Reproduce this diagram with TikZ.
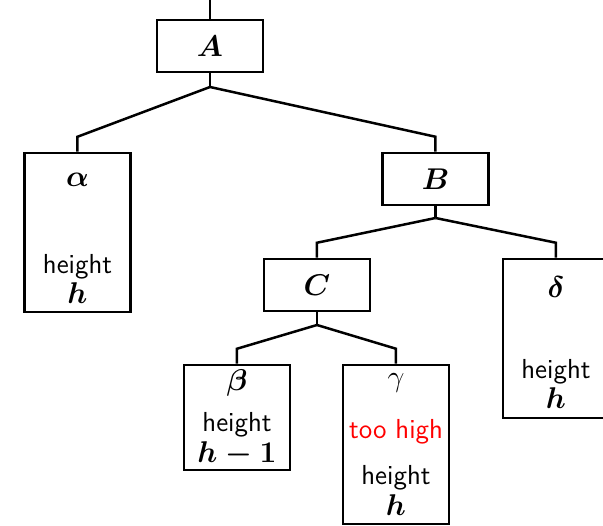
\documentclass[tikz,border=0pt]{standalone}
\usepackage{amsmath,amssymb}
\usetikzlibrary{positioning,calc}

\tikzset{
  treebox/.style={draw,line width=1pt,minimum width=42.4pt,minimum height=20.8pt,inner sep=0pt},
  tallbox/.style={treebox,minimum height=63.6pt},
  midbox/.style={treebox,minimum height=42pt},
  lbl/.style={inner sep=0pt,font=\fontsize{11.5}{13}\selectfont},
  htext/.style={inner sep=0pt,font=\sffamily\fontsize{11}{13}\selectfont},
  edge/.style={line width=1pt}
}

\begin{document}
\begin{tikzpicture}[x=0.4pt,y=-0.4pt]
  \useasboundingbox (0,0) rectangle (603,526);
  \clip (0,0) rectangle (603,526);

  % inner nodes
  \node[treebox,font=\fontsize{11.5}{13}\selectfont] (A) at (210,46) {$\boldsymbol{A}$};
  \node[treebox,font=\fontsize{11.5}{13}\selectfont] (B) at (435.5,179) {$\boldsymbol{B}$};
  \node[treebox,font=\fontsize{11.5}{13}\selectfont] (C) at (317,285) {$\boldsymbol{C}$};

  % subtrees
  \node[tallbox] (alpha) at (77.5,232.5) {};
  \node[lbl] (alphaname) at (77.5,180) {$\boldsymbol{\alpha}$};
  \node[htext] (alphaheight) at (77.5,267) {height};
  \node[lbl] (alphah) at (77.5,293) {$\boldsymbol{h}$};

  \node[tallbox] (delta) at (556,338.5) {};
  \node[lbl] (deltaname) at (556,287) {$\boldsymbol{\delta}$};
  \node[htext] (deltaheight) at (556,372) {height};
  \node[lbl] (deltah) at (556,398) {$\boldsymbol{h}$};

  \node[midbox] (beta) at (237,417.5) {};
  \node[lbl] (betaname) at (237,383) {$\boldsymbol{\beta}$};
  \node[htext] (betaheight) at (237,425) {height};
  \node[lbl] (betah) at (237,454) {$\boldsymbol{h-1}$};

  \node[tallbox] (gamma) at (396,444.5) {};
  \node[lbl] (gammaname) at (396,383) {$\gamma$};
  \node[htext,text=red] (gammahigh) at (396,432) {too high};
  \node[htext] (gammaheight) at (396,478) {height};
  \node[lbl] (gammah) at (396,505) {$\boldsymbol{h}$};

  % edges
  \coordinate (top) at (210,0);
  \coordinate (Ab) at (210,87);
  \coordinate (Bb) at (435.5,218);
  \coordinate (Cb) at (317,325);
  \draw[edge] (top) -- (A.north);
  \draw[edge] (A.south) -- (Ab);
  \draw[edge] (Ab) -- ($(alpha.north)+(0,-15)$) -- (alpha.north);
  \draw[edge] (Ab) -- ($(B.north)+(0,-15)$) -- (B.north);
  \draw[edge] (B.south) -- (Bb);
  \draw[edge] (Bb) -- ($(C.north)+(0,-15)$) -- (C.north);
  \draw[edge] (Bb) -- ($(delta.north)+(0,-15)$) -- (delta.north);
  \draw[edge] (C.south) -- (Cb);
  \draw[edge] (Cb) -- ($(beta.north)+(0,-15)$) -- (beta.north);
  \draw[edge] (Cb) -- ($(gamma.north)+(0,-15)$) -- (gamma.north);
\end{tikzpicture}
\end{document}
